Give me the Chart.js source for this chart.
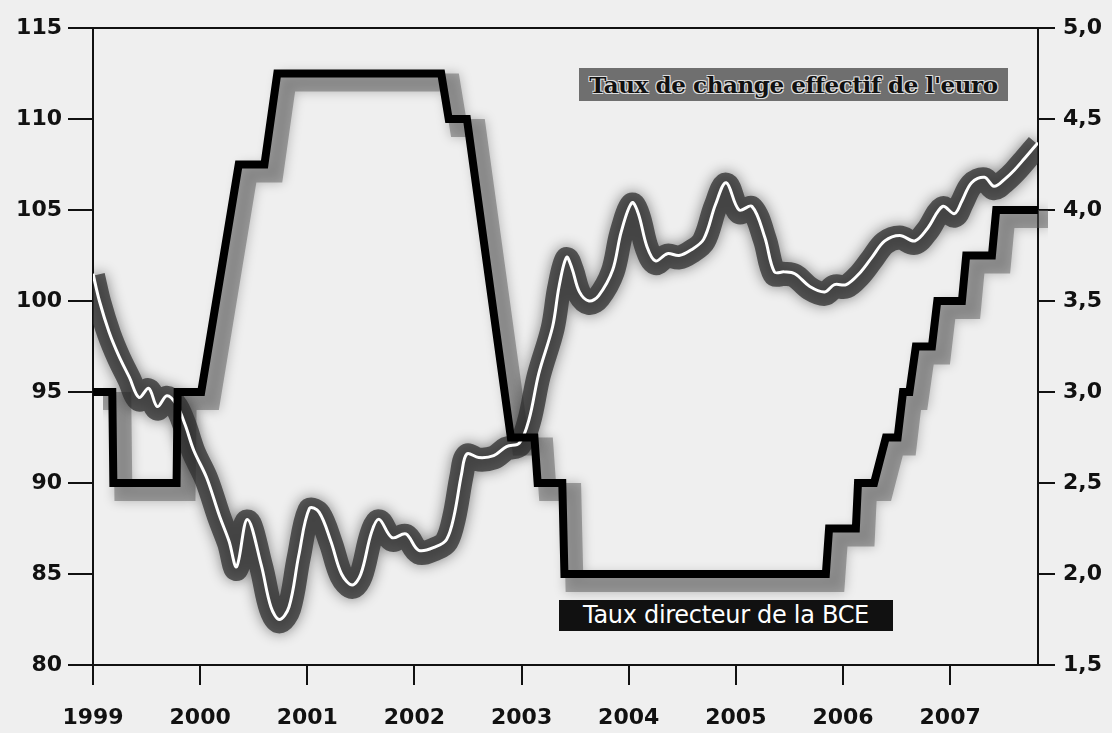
<!DOCTYPE html>
<html>
<head>
<meta charset="utf-8">
<script src="https://cdn.jsdelivr.net/npm/chart.js@4.4.1/dist/chart.umd.min.js"></script>
<style>
body { margin: 0; background: #efefef; }
#cadre { position: relative; width: 1112px; height: 733px; }
.etiquette { position: absolute; white-space: nowrap; box-sizing: border-box; }
#etiqEuro {
    left: 579px; top: 68px; width: 429px; height: 33px;
    background: #6f6f6f; color: #111;
    font: bold 23px "DejaVu Serif", serif; line-height: 33px; text-align: center;
    text-shadow: -1px -1px 0 #ddd, 1px -1px 0 #ddd, -1px 1px 0 #ddd, 1px 1px 0 #ddd;
    letter-spacing: -0.4px;
}
#etiqBce {
    left: 559px; top: 600px; width: 334px; height: 31px;
    background: #111; color: #fff;
    font: 24px "DejaVu Sans", sans-serif; line-height: 31px; text-align: center;
    letter-spacing: -0.3px;
}
</style>
</head>
<body>
<div id="cadre">
    <canvas id="GraficaTaux" width="1112" height="733"></canvas>
    <div class="etiquette" id="etiqEuro">Taux de change effectif de l'euro</div>
    <div class="etiquette" id="etiqBce">Taux directeur de la BCE</div>
</div>
<script>
// taux de change effectif de l'euro (axe de gauche)
const datesEuro = [1999.00, 1999.06, 1999.15, 1999.24, 1999.34, 1999.43, 1999.52, 1999.60, 1999.69, 1999.78,
    1999.86, 1999.94, 2000.06, 2000.18, 2000.27, 2000.34, 2000.44, 2000.57, 2000.66, 2000.74,
    2000.83, 2000.92, 2001.02, 2001.11, 2001.22, 2001.32, 2001.42, 2001.50, 2001.60, 2001.67,
    2001.79, 2001.92, 2002.04, 2002.20, 2002.30, 2002.37, 2002.44, 2002.49, 2002.60, 2002.74,
    2002.86, 2002.98, 2003.07, 2003.16, 2003.29, 2003.35, 2003.42, 2003.47, 2003.54, 2003.63,
    2003.72, 2003.85, 2003.93, 2004.03, 2004.09, 2004.17, 2004.25, 2004.36, 2004.47, 2004.58,
    2004.70, 2004.81, 2004.91, 2005.03, 2005.15, 2005.27, 2005.36, 2005.45, 2005.55, 2005.69,
    2005.83, 2005.92, 2006.03, 2006.15, 2006.27, 2006.39, 2006.53, 2006.67, 2006.79, 2006.93,
    2007.04, 2007.11, 2007.20, 2007.32, 2007.41, 2007.51, 2007.60, 2007.69, 2007.82];
const euro = [101.5, 100.0, 98.3, 97.0, 95.8, 94.7, 95.2, 94.2, 94.8, 94.3,
    93.2, 91.8, 90.3, 88.2, 86.8, 85.4, 88.0, 85.5, 83.2, 82.5,
    83.2, 86.0, 88.6, 88.4, 86.8, 85.0, 84.4, 85.0, 87.3, 88.0,
    87.0, 87.2, 86.3, 86.5, 86.9, 88.2, 90.5, 91.6, 91.4, 91.5,
    92.0, 92.2, 93.5, 96.0, 98.6, 100.8, 102.4, 101.8, 100.5, 100.0,
    100.3, 101.7, 103.8, 105.4, 104.8, 103.0, 102.2, 102.6, 102.5, 102.8,
    103.4, 105.3, 106.5, 105.0, 105.2, 103.5, 101.6, 101.6, 101.5, 100.8,
    100.5, 100.9, 100.9, 101.5, 102.4, 103.3, 103.6, 103.3, 104.0, 105.2,
    104.8, 105.5, 106.5, 106.8, 106.3, 106.7, 107.2, 107.8, 108.7];

// taux directeur de la BCE (axe de droite), coins de l'escalier
const datesBce = [1999.00, 1999.18, 1999.19, 1999.78, 1999.79, 2000.01, 2000.36, 2000.60, 2000.72, 2002.25,
    2002.32, 2002.49, 2002.90, 2003.12, 2003.15, 2003.38, 2003.40, 2005.84, 2005.87, 2006.12,
    2006.14, 2006.29, 2006.40, 2006.51, 2006.56, 2006.62, 2006.68, 2006.83, 2006.88, 2007.11,
    2007.15, 2007.39, 2007.43, 2007.82];
const bce = [3.0, 3.0, 2.5, 2.5, 3.0, 3.0, 4.25, 4.25, 4.75, 4.75,
    4.5, 4.5, 2.75, 2.75, 2.5, 2.5, 2.0, 2.0, 2.25, 2.25,
    2.5, 2.5, 2.75, 2.75, 3.0, 3.0, 3.25, 3.25, 3.5, 3.5,
    3.75, 3.75, 4.0, 4.0];

const annees = [1999, 2000, 2001, 2002, 2003, 2004, 2005, 2006, 2007];
const ticksGauche = [80, 85, 90, 95, 100, 105, 110, 115];
const ticksDroite = [1.5, 2.0, 2.5, 3.0, 3.5, 4.0, 4.5, 5.0];

const puntos = (xs, ys) => xs.map((x, i) => ({ x: x, y: ys[i] }));

// ombres et halos
const effets = {
    id: 'effets',
    beforeDatasetDraw(chart, args) {
        const ds = chart.data.datasets[args.index];
        if (!ds.ombre) return;
        const ctx = chart.ctx;
        ctx.save();
        ctx.translate(ds.ombre.dx, ds.ombre.dy);
        ctx.shadowColor = ds.ombre.couleur;
        ctx.shadowBlur = ds.ombre.flou;
    },
    afterDatasetDraw(chart, args) {
        const ds = chart.data.datasets[args.index];
        if (ds.ombre) chart.ctx.restore();
    },
    afterDraw(chart) {
        const a = chart.chartArea, ctx = chart.ctx;
        ctx.save();
        ctx.strokeStyle = '#111';
        ctx.lineWidth = 2;
        ctx.beginPath();
        ctx.moveTo(a.left, a.top);
        ctx.lineTo(a.right, a.top);
        ctx.stroke();
        ctx.restore();
    }
};

const police = { family: '"DejaVu Sans", sans-serif', size: 22, weight: 'bold' };

const ctx = document.getElementById('GraficaTaux').getContext('2d');
const miGrafica = new Chart(ctx, {
    type: 'line',
    data: {
        datasets: [{
            data: puntos(datesBce, bce),
            yAxisID: 'y2',
            borderColor: 'rgba(90,90,90,0.5)',
            borderWidth: 18,
            ombre: { dx: 10, dy: 9, couleur: 'rgba(0,0,0,0.5)', flou: 12 },
            order: 4
        }, {
            data: puntos(datesEuro, euro),
            yAxisID: 'y',
            borderColor: 'rgba(45,45,45,0.75)',
            borderWidth: 24,
            tension: 0.35,
            ombre: { dx: 0, dy: 2, couleur: 'rgba(0,0,0,0.6)', flou: 14 },
            order: 3
        }, {
            data: puntos(datesEuro, euro),
            yAxisID: 'y',
            borderColor: '#ffffff',
            borderWidth: 3,
            tension: 0.35,
            order: 2
        }, {
            data: puntos(datesBce, bce),
            yAxisID: 'y2',
            borderColor: '#000000',
            borderWidth: 8,
            borderJoinStyle: 'miter',
            order: 1
        }]
    },
    options: {
        responsive: false,
        animation: false,
        layout: { padding: { top: 28, left: 0, right: 0, bottom: 0 } },
        elements: { point: { radius: 0 } },
        plugins: { legend: { display: false }, tooltip: { enabled: false } },
        scales: {
            x: {
                type: 'linear',
                min: 1999,
                max: 2007.82,
                afterBuildTicks: s => { s.ticks = annees.map(v => ({ value: v })); },
                afterFit: s => { s.height = 68; },
                ticks: { color: '#111', font: police, padding: 20, callback: v => String(v), maxRotation: 0 },
                grid: { drawOnChartArea: false, color: '#111', lineWidth: 2, tickLength: 20 },
                border: { color: '#111', width: 2 }
            },
            y: {
                position: 'left',
                min: 80,
                max: 115,
                afterBuildTicks: s => { s.ticks = ticksGauche.map(v => ({ value: v })); },
                afterFit: s => { s.width = 93; },
                ticks: { color: '#111', font: police, padding: 6 },
                grid: { drawOnChartArea: false, color: '#111', lineWidth: 2, tickLength: 25 },
                border: { color: '#111', width: 2 }
            },
            y2: {
                position: 'right',
                min: 1.5,
                max: 5.0,
                afterBuildTicks: s => { s.ticks = ticksDroite.map(v => ({ value: v })); },
                afterFit: s => { s.width = 74; },
                ticks: { color: '#111', font: police, padding: 8, callback: v => v.toFixed(1).replace('.', ',') },
                grid: { drawOnChartArea: false, color: '#111', lineWidth: 2, tickLength: 17 },
                border: { color: '#111', width: 2 }
            }
        }
    },
    plugins: [effets]
});
</script>
</body>
</html>
